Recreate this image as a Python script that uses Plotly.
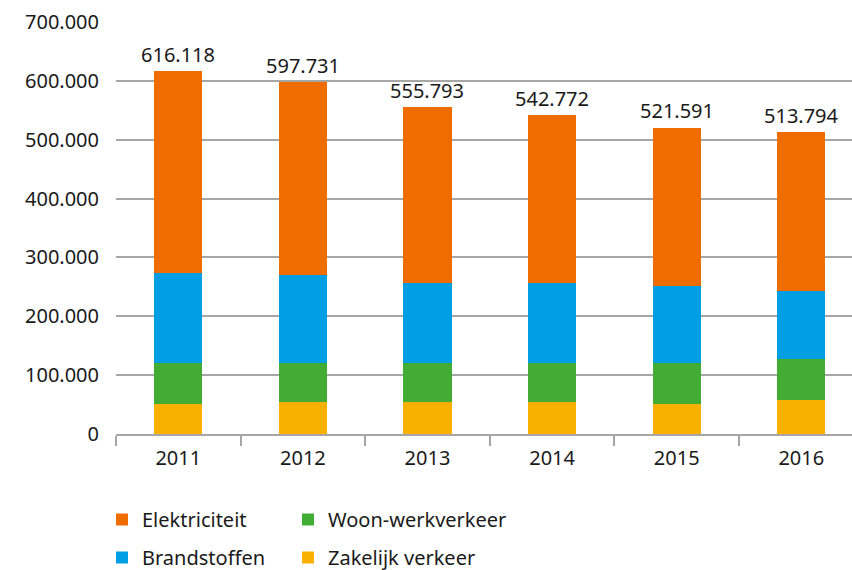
import plotly.graph_objects as go

years = ["2011", "2012", "2013", "2014", "2015", "2016"]
zakelijk = [51000, 53900, 53900, 53900, 51000, 57300]
woonwerk = [69200, 66300, 66300, 66300, 69200, 69700]
brandstoffen = [153100, 149700, 136100, 136100, 131700, 116200]
elektriciteit = [342818, 327831, 299493, 286472, 268691, 270594]
totals = [616118, 597731, 555793, 542772, 521591, 513794]
total_labels = ["616.118", "597.731", "555.793", "542.772", "521.591", "513.794"]
y_tickvals = [0, 100000, 200000, 300000, 400000, 500000, 600000, 700000]
y_ticktext = ["0", "100.000", "200.000", "300.000", "400.000", "500.000", "600.000", "700.000"]

FONT = "Noto Sans"
GRID = "#a6a6a6"

fig = go.Figure()
series = [
    ("Zakelijk verkeer", zakelijk, "#F9B000", "legend2", 2),
    ("Woon-werkverkeer", woonwerk, "#43AC34", "legend2", 1),
    ("Brandstoffen", brandstoffen, "#009FE3", "legend", 2),
    ("Elektriciteit", elektriciteit, "#EE6C00", "legend", 1),
]
for name, vals, color, leg, rank in series:
    fig.add_trace(go.Bar(
        x=years, y=vals, name=name, marker_color=color,
        marker_line_width=0, legend=leg, legendgroup=name, legendrank=rank,
        width=0.388,
    ))

for i, (tot, lab) in enumerate(zip(totals, total_labels)):
    fig.add_annotation(x=i, y=tot, text=lab, showarrow=False,
                       xref="x", yref="y",
                       yanchor="bottom", yshift=1,
                       font=dict(family=FONT, size=20, color="#1a1a1a"))

legend_common = dict(
    orientation="v", traceorder="grouped", tracegroupgap=9,
    font=dict(family=FONT, size=20, color="#1a1a1a"),
    xref="container", yref="container", xanchor="left", yanchor="top",
    bgcolor="rgba(0,0,0,0)", itemwidth=30,
)

fig.update_layout(
    width=852, height=570,
    margin=dict(l=116, r=0, t=22, b=136, autoexpand=False),
    paper_bgcolor="white", plot_bgcolor="white",
    barmode="stack",
    bargap=0.6,
    showlegend=True,
    legend=dict(x=102 / 852, y=1 - 500 / 570, **legend_common),
    legend2=dict(x=288 / 852, y=1 - 500 / 570, **legend_common),
    font=dict(family=FONT, color="#1a1a1a"),
)
fig.update_xaxes(
    type="category", range=[-0.5, 5.407],
    showline=True, linecolor=GRID, linewidth=2,
    ticks="outside", tickson="boundaries", ticklen=10, tickcolor=GRID, tickwidth=2,
    showgrid=False, tickangle=0, ticklabelstandoff=5,
    tickfont=dict(family=FONT, size=20, color="#1a1a1a"),
)
fig.update_yaxes(
    range=[0, 700000], tickvals=y_tickvals, ticktext=y_ticktext,
    showgrid=True, gridcolor=GRID, gridwidth=2, zeroline=False,
    showline=False, ticks="", ticklabelstandoff=16,
    tickfont=dict(family=FONT, size=20, color="#1a1a1a"),
)

fig.write_html("out.html", config={"displayModeBar": False},
               post_script="document.body.style.margin='0';document.body.style.padding='0';")
